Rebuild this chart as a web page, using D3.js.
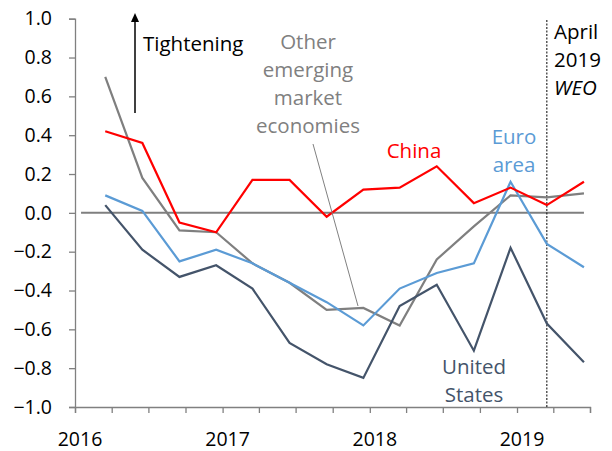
<!DOCTYPE html>
<html>
<head>
<meta charset="utf-8">
<script src="https://cdn.jsdelivr.net/npm/d3@7"></script>
<style>
  body { margin: 0; background: #fff; }
  svg { font-family: "Open Sans", "Noto Sans", sans-serif; }
</style>
</head>
<body>
<script>
var w = 612;
var h = 451;

// quarterly observations (mid of last month of each quarter)
var months = ["2016-03", "2016-06", "2016-09", "2016-12",
              "2017-03", "2017-06", "2017-09", "2017-12",
              "2018-03", "2018-06", "2018-09", "2018-12",
              "2019-03", "2019-06"];

var china = [0.42, 0.36, -0.05, -0.10, 0.17, 0.17, -0.02, 0.12, 0.13, 0.24, 0.05, 0.13, 0.04, 0.16];
var euroArea = [0.09, 0.01, -0.25, -0.19, -0.26, -0.36, -0.46, -0.58, -0.39, -0.31, -0.26, 0.16, -0.16, -0.28];
var otherEM = [0.70, 0.18, -0.09, -0.10, -0.26, -0.36, -0.50, -0.49, -0.58, -0.24, -0.07, 0.09, 0.08, 0.10];
var unitedStates = [0.04, -0.19, -0.33, -0.27, -0.39, -0.67, -0.78, -0.85, -0.48, -0.37, -0.71, -0.18, -0.57, -0.77];

var yTicks = [-1.0, -0.8, -0.6, -0.4, -0.2, 0.0, 0.2, 0.4, 0.6, 0.8, 1.0];
var yearLabels = ["2016", "2017", "2018", "2019"];
var weoMonth = "2019-03";

var parseMonth = function (s) {
  var p = s.split("-");
  return new Date(+p[0], +p[1] - 1, 16);
};

var series = [
  { name: "Other EM", values: otherEM, color: "#7f7f7f" },
  { name: "Euro area", values: euroArea, color: "#5b9bd5" },
  { name: "United States", values: unitedStates, color: "#44546a" },
  { name: "China", values: china, color: "#ff0000" }
];

var xScale = d3.scaleTime()
  .domain([new Date(2016, 0, 1), new Date(2019, 6, 1)])
  .range([75, 590]);

var yScale = d3.scaleLinear()
  .domain([-1, 1])
  .range([407, 18.7]);

var svg = d3.select("body").append("svg").attr("width", w).attr("height", h);

// Axes
var xAxis = d3.axisBottom(xScale)
  .ticks(d3.timeMonth.every(3))
  .tickSize(6)
  .tickFormat("");

var yAxis = d3.axisLeft(yScale)
  .tickValues(yTicks)
  .tickSize(6)
  .tickFormat(d3.format(".1f"));

var gx = svg.append("g")
  .attr("transform", `translate(0,${yScale(-1)})`)
  .call(xAxis);
gx.select(".domain").attr("stroke", "#808080").attr("stroke-width", 1.3);
gx.selectAll(".tick line").attr("stroke", "#808080").attr("stroke-width", 1.3);

svg.append("g")
  .selectAll("text")
  .data(yearLabels)
  .enter()
  .append("text")
  .attr("x", function (d) { return xScale(new Date(+d, 0, 1)) + 5; })
  .attr("y", 446)
  .attr("text-anchor", "middle")
  .attr("font-size", 19.5)
  .attr("fill", "#000")
  .text(function (d) { return d; });

var gy = svg.append("g")
  .attr("transform", `translate(${xScale.range()[0]},0)`)
  .call(yAxis);
gy.select(".domain").attr("stroke", "#808080").attr("stroke-width", 1.3);
gy.selectAll(".tick line").attr("stroke", "#808080").attr("stroke-width", 1.3);
gy.selectAll(".tick text")
  .attr("font-size", 19.5)
  .attr("fill", "#000")
  .attr("x", -23)
  .attr("font-family", "\"Open Sans\", sans-serif");

// zero line
svg.append("line")
  .attr("x1", xScale(new Date(2016, 0, 16)))
  .attr("x2", xScale(parseMonth(months[months.length - 1])))
  .attr("y1", yScale(0))
  .attr("y2", yScale(0))
  .attr("stroke", "#7f7f7f")
  .attr("stroke-width", 2);

// April 2019 WEO marker
svg.append("line")
  .attr("x1", xScale(parseMonth(weoMonth)))
  .attr("x2", xScale(parseMonth(weoMonth)))
  .attr("y1", 20)
  .attr("y2", yScale(-1))
  .attr("stroke", "#000")
  .attr("stroke-width", 1)
  .attr("stroke-dasharray", "2,1.5");

// lines
var line = d3.line()
  .x(function (d, i) { return xScale(parseMonth(months[i])); })
  .y(function (d) { return yScale(d); });

svg.selectAll(".series")
  .data(series)
  .enter()
  .append("path")
  .attr("class", "series")
  .attr("fill", "none")
  .attr("stroke", function (d) { return d.color; })
  .attr("stroke-width", 2.2)
  .attr("stroke-linejoin", "miter")
  .attr("d", function (d) { return line(d.values); });

// annotations
function multiline(x, y, lines, color, anchor, style) {
  var t = svg.append("text")
    .attr("x", x)
    .attr("y", y)
    .attr("font-size", 20.5)
    .attr("fill", color)
    .attr("text-anchor", anchor);
  lines.forEach(function (s, i) {
    var ts = t.append("tspan")
      .attr("x", x)
      .attr("dy", i === 0 ? 0 : 28)
      .text(s);
    if (style && style[i]) ts.attr("font-style", style[i]);
  });
}

// Tightening arrow
svg.append("line")
  .attr("x1", 135).attr("x2", 135)
  .attr("y1", 113).attr("y2", 16)
  .attr("stroke", "#000")
  .attr("stroke-width", 1.5);
svg.append("path")
  .attr("d", "M131,22 L135,13 L139,22 Z")
  .attr("fill", "#000");

multiline(143, 51, ["Tightening"], "#000", "start");
multiline(308, 49, ["Other", "emerging", "market", "economies"], "#808080", "middle");
multiline(414, 158, ["China"], "#ff0000", "middle");
multiline(514, 144, ["Euro", "area"], "#5b9bd5", "middle");
multiline(474, 374, ["United", "States"], "#44546a", "middle");
multiline(554, 39, ["April", "2019", "WEO"], "#000", "start", [null, null, "italic"]);

// leader line for Other EM
svg.append("line")
  .attr("x1", 313).attr("y1", 144)
  .attr("x2", 358).attr("y2", 306)
  .attr("stroke", "#808080")
  .attr("stroke-width", 1);
</script>
</body>
</html>
